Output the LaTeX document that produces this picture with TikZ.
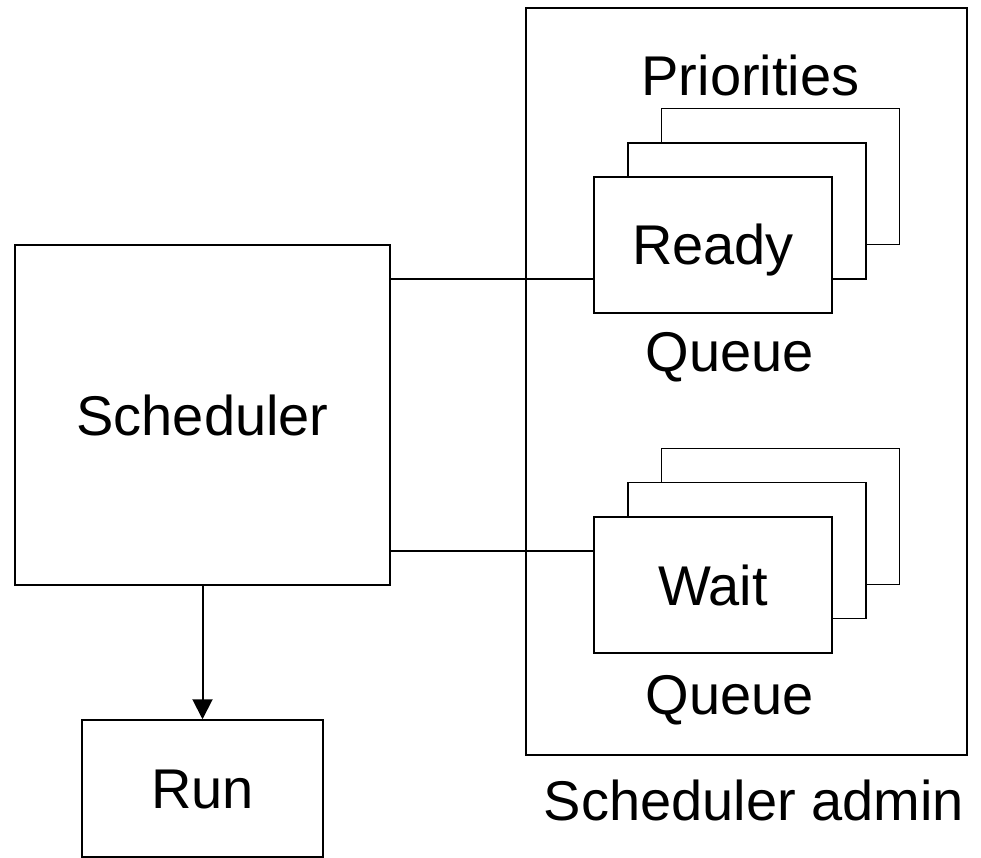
\documentclass[tikz,border=0pt]{standalone}
\usepackage{fontspec}
\setmainfont{Liberation Sans}
\usetikzlibrary{arrows.meta}

\tikzset{
    box/.style={draw, line width=1.5pt, fill=white, inner sep=0pt,
        text height=40pt, text depth=0pt},
    queuebox/.style={box, minimum width=238pt, minimum height=136pt},
    label/.style={anchor=base, inner sep=0pt},
    link/.style={line width=2.5pt}
}

\begin{document}
\begin{tikzpicture}[x=1pt, y=-1pt, font=\fontsize{56}{60}\selectfont]
    \useasboundingbox (0,0) rectangle (981,858);

    % Admin frame
    \node[box, minimum width=441pt, minimum height=747pt] (admin) at (746.5,381.5) {};
    \node[label] (admintext) at (754,820) {Scheduler admin};

    % Ready queues
    \node[label] (prio) at (750.5,96) {Priorities};
    \node[queuebox] (readyback) at (780.5,176.5) {};
    \node[queuebox] (readymid) at (747,211) {};
    \node[queuebox] (ready) at (713,245) {Ready};
    \node[label] (readyq) at (730,371) {Queue};

    % Wait queues
    \node[queuebox] (waitback) at (780.5,516.5) {};
    \node[queuebox] (waitmid) at (747,550.5) {};
    \node[queuebox] (wait) at (713,585) {Wait};
    \node[label] (waitq) at (730,714) {Queue};

    % Scheduler and run
    \node[box, minimum width=375pt, minimum height=340pt] (sched) at (202.5,415) {Scheduler};
    \node[box, minimum width=241pt, minimum height=137pt] (run) at (202.5,788.5) {Run};

    % Connections
    \coordinate (readyin) at (ready.west |- 0,279);
    \coordinate (waitin) at (wait.west |- 0,551);
    \draw[link] (sched.east |- readyin) -- (readyin);
    \draw[link] (sched.east |- waitin) -- (waitin);
    \draw[line width=2pt, -{Triangle[length=20pt, width=20pt]}] (sched.south) -- (run.north);
\end{tikzpicture}
\end{document}
